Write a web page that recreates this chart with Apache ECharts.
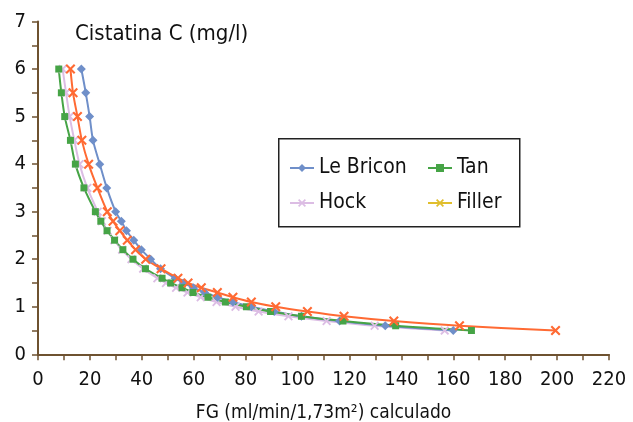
<!DOCTYPE html>
<html><head><meta charset="utf-8">
<script src="https://cdn.jsdelivr.net/npm/echarts@6/dist/echarts.min.js"></script>
<style>html,body{margin:0;padding:0;background:#fff}#c{width:633px;height:422px}</style>
</head><body><div id="c"></div>
<script>
const cystatin = [6, 5.5, 5, 4.5, 4, 3.5, 3, 2.8, 2.6, 2.4, 2.2, 2, 1.8, 1.6, 1.5, 1.4, 1.3, 1.2, 1.1, 1, 0.9, 0.8, 0.7, 0.6, 0.5];
const leBricon = [16.7, 18.4, 19.9, 21.2, 23.8, 26.5, 29.9, 32.1, 34.1, 36.9, 39.8, 43.4, 47.2, 52.8, 56, 59.8, 64.2, 69.2, 75.1, 82.2, 91, 101.5, 116.2, 133.8, 160];
const tan = [8.0, 9.0, 10.3, 12.5, 14.4, 17.7, 22.1, 24.2, 26.6, 29.5, 32.7, 36.6, 41.4, 47.8, 51.1, 55.5, 59.7, 65.5, 72.2, 80.3, 89.6, 101.5, 117.5, 137.8, 167];
const hock = [9.5, 10.8, 12.2, 14.0, 16.0, 19.0, 23.0, 24.6, 26.8, 29.4, 32.4, 36, 40.5, 46, 49.3, 53.2, 57.6, 62.7, 68.8, 76.1, 85, 96.5, 111.2, 129.7, 156.7];
const filler = [12.5, 13.5, 15.2, 16.9, 19.5, 22.9, 26.7, 28.9, 31.5, 34.4, 37.6, 41.5, 47.4, 53.9, 57.8, 62.9, 69.1, 75.1, 82.2, 91.6, 103.8, 117.9, 137.1, 162.4, 199.4];
const xTitle = 'FG (ml/min/1,73m²) calculado';
const yTitle = 'Cistatina C (mg/l)';

const pairs = xs => xs.map((x, i) => [x, cystatin[i]]);
const X = 'path://M0,1.5L1.5,0L5,3.5L8.5,0L10,1.5L6.5,5L10,8.5L8.5,10L5,6.5L1.5,10L0,8.5L3.5,5Z';
const FONT = '"DejaVu Sans Condensed", "DejaVu Sans", sans-serif';
const axisCol = '#6e5230';

function mk(name, data, color, symbol, size) {
  return {
    name, type: 'line', data: pairs(data), smooth: 0.3,
    symbol, symbolSize: size, showSymbol: true,
    lineStyle: { color, width: 2 }, itemStyle: { color },
    emphasis: { disabled: true }, animation: false
  };
}

const chart = echarts.init(document.getElementById('c'));
chart.setOption({
  animation: false,
  grid: { left: 38, right: 24, top: 21.5, bottom: 67.7, containLabel: false, outerBoundsMode: 'none' },
  xAxis: {
    type: 'value', min: 0, max: 220, interval: 20,
    name: xTitle, nameLocation: 'middle', nameGap: 49,
    nameTextStyle: { fontFamily: FONT, fontSize: 19, color: '#111' },
    axisLine: { lineStyle: { color: axisCol, width: 2 } },
    axisTick: { show: true, length: 6, lineStyle: { color: axisCol, width: 1.5 } },
    minorTick: { show: true, splitNumber: 2, length: 6, lineStyle: { color: axisCol, width: 1.5 } },
    axisLabel: { fontFamily: FONT, fontSize: 20, color: '#111', margin: 15 },
    splitLine: { show: false }
  },
  yAxis: {
    type: 'value', min: 0, max: 7, interval: 1,
    axisLine: { show: true, lineStyle: { color: axisCol, width: 2 } },
    axisTick: { show: true, length: 6, lineStyle: { color: axisCol, width: 1.5 } },
    minorTick: { show: true, splitNumber: 2, length: 6, lineStyle: { color: axisCol, width: 1.5 } },
    axisLabel: { fontFamily: FONT, fontSize: 20, color: '#111', margin: 12 },
    splitLine: { show: false }
  },
  legend: [
    { orient: 'vertical', left: 289, top: 156, itemWidth: 24, itemHeight: 10, itemGap: 11, padding: 0,
      textStyle: { fontFamily: FONT, fontSize: 21, color: '#111', lineHeight: 24 },
      data: ['Le Bricon', 'Hock'] },
    { orient: 'vertical', left: 427, top: 156, itemWidth: 24, itemHeight: 10, itemGap: 11, padding: 0,
      textStyle: { fontFamily: FONT, fontSize: 21, color: '#111', lineHeight: 24 },
      data: ['Tan', { name: 'Filler', itemStyle: { color: '#e0be2c' }, lineStyle: { color: '#e0be2c' } }] }
  ],
  graphic: [
    { type: 'rect', left: 278, top: 138, shape: { width: 241, height: 88 },
      style: { fill: 'rgba(0,0,0,0)', stroke: '#222', lineWidth: 1.5 }, z: 0 },
    { type: 'text', left: 75, top: 23, style: { text: yTitle, font: '22px ' + FONT, fill: '#111' } }
  ],
  series: [
    mk('Hock', hock, '#dcbde4', X, 9),
    mk('Le Bricon', leBricon, '#6f8fc9', 'diamond', 9),
    mk('Tan', tan, '#46a446', 'rect', 7),
    mk('Filler', filler, '#ff6a33', X, 10)
  ]
});
</script></body></html>
